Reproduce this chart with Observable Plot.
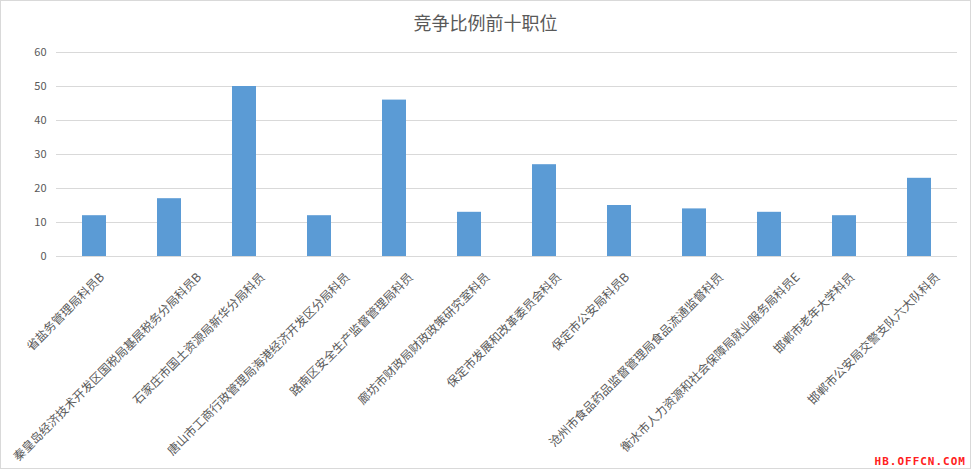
<!DOCTYPE html>
<html><head><meta charset="utf-8">
<script src="https://cdn.jsdelivr.net/npm/d3@7"></script>
<script src="https://cdn.jsdelivr.net/npm/@observablehq/plot@0.6"></script>
<style>
html,body{margin:0;padding:0;background:#fff;}
#wrap{position:relative;width:969px;height:467px;border:1px solid #d9d9d9;overflow:hidden;font-family:"Noto Sans CJK SC",sans-serif;}
#title{height:40px;line-height:43px;text-align:center;font-size:18px;color:#595959;}
#wm{position:absolute;right:4px;bottom:0px;color:#ff2020;font:bold 11px "DejaVu Sans Mono",monospace;letter-spacing:1px;}
</style></head>
<body><div id="wrap"><div id="title">竞争比例前十职位</div><div id="chart"></div><div id="wm">HB.OFFCN.COM</div></div>
<script>
const categories = [
  "省盐务管理局科员B",
  "秦皇岛经济技术开发区国税局基层税务分局科员B",
  "石家庄市国土资源局新华分局科员",
  "唐山市工商行政管理局海港经济开发区分局科员",
  "路南区安全生产监督管理局科员",
  "廊坊市财政局财政政策研究室科员",
  "保定市发展和改革委员会科员",
  "保定市公安局科员B",
  "沧州市食品药品监督管理局食品流通监督科员",
  "衡水市人力资源和社会保障局就业服务局科员E",
  "邯郸市老年大学科员",
  "邯郸市公安局交警支队六大队科员"
];
const values = [12, 17, 50, 12, 46, 13, 27, 15, 14, 13, 12, 23];
const yTicks = [0, 10, 20, 30, 40, 50, 60];
const data = categories.map((c, i) => ({cat: c, v: values[i]}));

const chart = Plot.plot({
  width: 969,
  height: 426,
  marginTop: 11,
  marginLeft: 55,
  marginRight: 13,
  marginBottom: 211,
  style: {fontFamily: '"Noto Sans CJK SC", sans-serif', fontSize: "11px", color: "#595959", background: "#fff"},
  x: {domain: categories, paddingInner: 0.68, paddingOuter: 0.34, label: null},
  y: {domain: [0, 60], ticks: yTicks, label: null},
  marks: [
    Plot.gridY(yTicks, {stroke: "#d9d9d9", strokeOpacity: 1}),
    Plot.barY(data, {x: "cat", y: "v", fill: "#5b9bd5"}),
    Plot.axisY({ticks: yTicks, tickSize: 0, tickPadding: 10, label: null, fontSize: 11}),
    Plot.axisX({tickSize: 0, tickRotate: -45, tickPadding: 6, label: null, fontSize: 12})
  ]
});
document.getElementById("chart").appendChild(chart);

// Excel-like placement of rotated category labels: the label's end shifts right with its length
const xs = chart.scale("x");
const bw = xs.bandwidth;
const svgBox = chart.getBoundingClientRect();
d3.select(chart).selectAll('g[aria-label="x-axis tick label"] text').each(function () {
  const t = this.textContent;
  const n = t.length;
  const cx = svgBox.left + xs.apply(t) + bw / 2;
  const desiredRight = cx + 1.7 * n - 2;
  const desiredTop = svgBox.top + 227;
  const r = this.getBoundingClientRect();
  const old = this.getAttribute("transform") || "";
  this.setAttribute("transform", `translate(${desiredRight - r.right},${desiredTop - r.top}) ` + old);
});
</script></body></html>
